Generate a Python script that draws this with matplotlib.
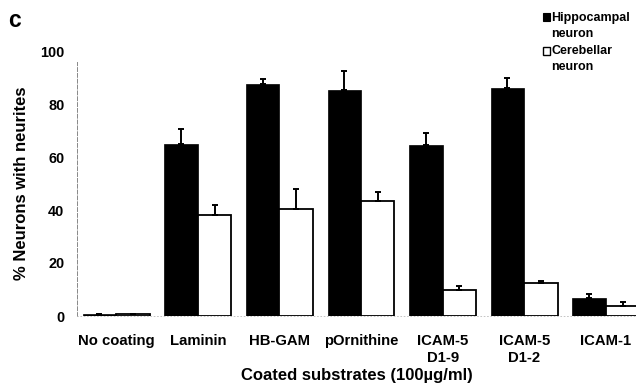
import matplotlib.pyplot as plt
import matplotlib as mpl
from matplotlib.patches import Rectangle
import numpy as np

plt.rcParams['font.family'] = ['Liberation Sans', 'DejaVu Sans']
plt.rcParams['font.weight'] = 'bold'

categories = ['No coating', 'Laminin', 'HB-GAM', 'pOrnithine', 'ICAM-5\nD1-9', 'ICAM-5\nD1-2', 'ICAM-1']
hippocampal = [0.6, 64.8, 87.6, 85.4, 64.6, 86.0, 6.8]
hippocampal_err = [0.3, 5.8, 1.8, 7.0, 4.6, 4.0, 1.4]
cerebellar = [0.6, 38.1, 40.2, 43.3, 10.0, 12.5, 3.8]
cerebellar_err = [0.3, 3.7, 7.7, 3.4, 1.3, 0.6, 1.5]
yticks = [0, 20, 40, 60, 80, 100]

fig = plt.figure(figsize=(6.36, 3.89), dpi=100)
ax = fig.add_axes([77/636, 73/389, 1 - 77/636, 265/389])

x = np.arange(len(categories))
w = 0.41
ax.bar(x - w/2, hippocampal, w, color='black', edgecolor='black', linewidth=0.5)
ax.bar(x + w/2, cerebellar, w, color='white', edgecolor='black', linewidth=1.3)
ax.errorbar(x - w/2, hippocampal, yerr=[np.zeros(len(x)), hippocampal_err],
            fmt='none', ecolor='black', elinewidth=1.4, capsize=2.4, capthick=1.4)
ax.errorbar(x + w/2, cerebellar, yerr=[np.zeros(len(x)), cerebellar_err],
            fmt='none', ecolor='black', elinewidth=1.4, capsize=2.4, capthick=1.4)

ax.set_xlim(-0.48, 6.37)
ax.set_ylim(0, 100)
ax.set_xticks(x)
ax.set_xticklabels(categories, fontsize=10.7, fontweight='bold', linespacing=1.25)
ax.set_yticks(yticks)
ax.set_yticklabels([str(t) for t in yticks], fontsize=10.4, fontweight='bold')
ax.tick_params(axis='both', length=0)
ax.tick_params(axis='x', pad=13)
ax.tick_params(axis='y', pad=9)

for s in ['top', 'right']:
    ax.spines[s].set_visible(False)
ax.spines['left'].set_linestyle((0, (4, 2)))
ax.spines['left'].set_color('#888888')
ax.spines['left'].set_linewidth(0.7)
ax.spines['left'].set_bounds(0, 96)
ax.spines['bottom'].set_linestyle((0, (1, 3)))
ax.spines['bottom'].set_color('#bbbbbb')
ax.spines['bottom'].set_linewidth(0.6)

ax.set_xlabel('Coated substrates (100µg/ml)', fontsize=12, fontweight='bold', labelpad=2)
ax.set_ylabel('% Neurons with neurites', fontsize=12, fontweight='bold', labelpad=8)

fig.text(8/636, 1 - 27/389, 'c', fontsize=16.5, fontweight='bold')

# legend drawn by hand so the box sits on the first line of each label
fig.patches.append(Rectangle((543/636, 1 - 21/389), 7/636, 8/389, transform=fig.transFigure,
                             facecolor='black', edgecolor='black', linewidth=0.8))
fig.patches.append(Rectangle((543/636, 1 - 55/389), 7/636, 8/389, transform=fig.transFigure,
                             facecolor='white', edgecolor='black', linewidth=1.0))
fig.text(551/636, 1 - 12/389, 'Hippocampal\nneuron', fontsize=9, fontweight='bold',
         va='top', ha='left', linespacing=1.4, transform=fig.transFigure)
fig.text(551/636, 1 - 45/389, 'Cerebellar\nneuron', fontsize=9, fontweight='bold',
         va='top', ha='left', linespacing=1.4, transform=fig.transFigure)

plt.savefig('out.png', dpi=100)
